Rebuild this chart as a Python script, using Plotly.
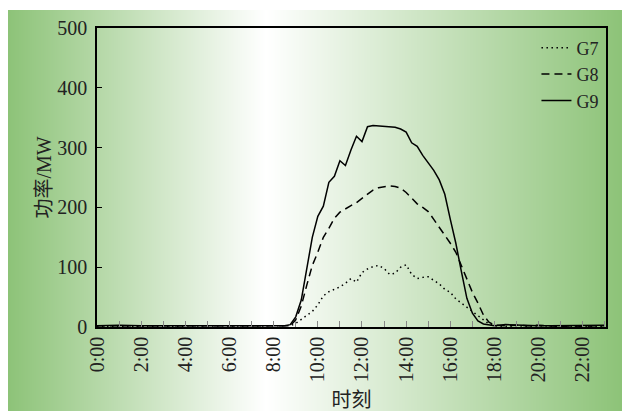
import base64, struct, zlib
import plotly.graph_objects as go

# ---------------- data ----------------
hours = [0, 1, 2, 3, 4, 5, 6, 7, 8,
         8.25, 8.5, 8.75, 9.0, 9.25, 9.5, 9.75, 10.0, 10.25, 10.5, 10.75,
         11.0, 11.25, 11.5, 11.75, 12.0, 12.25, 12.5, 12.75, 13.0, 13.25,
         13.5, 13.75, 14.0, 14.25, 14.5, 14.75, 15.0, 15.25, 15.5, 15.75,
         16.0, 16.25, 16.5, 16.75, 17.0, 17.25, 17.5, 17.75, 18.0,
         18.5, 19, 19.5, 20, 20.5, 21, 21.5, 22, 22.5, 23]

g7 = [1, 1, 1, 1, 1, 1, 1, 1, 1,
      1, 1, 2, 6, 13, 19, 26, 37, 52, 59, 63,
      67, 73, 81, 75, 91, 97, 101, 103, 98, 88,
      90, 100, 104, 88, 81, 83, 84, 78, 72, 63,
      58, 47, 40, 33, 25, 18, 11, 5, 2,
      1, 2, 1, 2, 1, 1, 1, 1, 1, 1]

g8 = [2, 2, 1, 2, 1, 2, 1, 2, 1,
      1, 1, 2, 12, 35, 70, 103, 125, 150, 165, 182,
      192, 198, 203, 208, 215, 222, 229, 233, 235, 236,
      235, 232, 225, 215, 206, 200, 193, 180, 167, 153,
      140, 125, 103, 82, 58, 40, 20, 8, 3,
      2, 3, 2, 3, 2, 1, 2, 1, 2, 2]

g9 = [2, 3, 2, 2, 2, 2, 2, 2, 2,
      2, 2, 4, 17, 45, 95, 150, 185, 202, 242, 252,
      278, 270, 296, 319, 310, 335, 337, 336, 335, 335,
      334, 331, 326, 308, 302, 287, 275, 262, 246, 222,
      180, 140, 93, 48, 23, 10, 5, 3, 2,
      4, 3, 3, 2, 2, 2, 2, 2, 3, 3]

series_names = ["G7", "G8", "G9"]
tick_hours = list(range(0, 24))
tick_labels = ["0:00", "", "2:00", "", "4:00", "", "6:00", "", "8:00", "",
               "10:00", "", "12:00", "", "14:00", "", "16:00", "", "18:00", "",
               "20:00", "", "22:00", ""]
y_ticks = [0, 100, 200, 300, 400, 500]

# ---------------- background gradient image ----------------
W_IMG = 614
green = (141, 195, 120)
white_pos = 0.42

def grad_color(t):
    if t <= white_pos:
        f = t / white_pos
    else:
        f = (1 - t) / (1 - white_pos)
    return tuple(int(round(g + (255 - g) * f)) for g in green)

row = bytearray([0])
for i in range(W_IMG):
    row.extend(grad_color(i / (W_IMG - 1)))
rows = b"".join(bytes(row) for _ in range(4))

def png_chunk(tag, data):
    c = struct.pack(">I", len(data)) + tag + data
    return c + struct.pack(">I", zlib.crc32(tag + data) & 0xffffffff)

png = b"\x89PNG\r\n\x1a\n"
png += png_chunk(b"IHDR", struct.pack(">IIBBBBB", W_IMG, 4, 8, 2, 0, 0, 0))
png += png_chunk(b"IDAT", zlib.compress(rows))
png += png_chunk(b"IEND", b"")
uri = "data:image/png;base64," + base64.b64encode(png).decode()

# plot area geometry (pixels) for converting the background rect to paper coords
L, R, T, B = 97, 606, 28, 327
pw, ph = R - L, B - T

FONT = "Liberation Serif, Noto Sans CJK SC, serif"

fig = go.Figure()
styles = [dict(dash="1.5px,3.5px", width=1.5),
          dict(dash="8px,5px", width=1.5),
          dict(dash="solid", width=1.5)]
for name, vals, st in zip(series_names, [g7, g8, g9], styles):
    fig.add_trace(go.Scatter(x=hours, y=vals, mode="lines", name=name,
                             line=dict(color="black", **st)))

fig.add_layout_image(dict(source=uri, xref="paper", yref="paper",
                          x=(8 - L) / pw, y=(B - 10) / ph,
                          sizex=(622 - 8) / pw, sizey=(411 - 10) / ph,
                          xanchor="left", yanchor="top", sizing="stretch",
                          layer="below"))

fig.update_layout(
    width=628, height=411,
    margin=dict(l=L, r=628 - R, t=T, b=411 - B),
    paper_bgcolor="white", plot_bgcolor="rgba(0,0,0,0)",
    font=dict(family=FONT, size=20, color="#222"),
    showlegend=True,
    legend=dict(x=0.995, y=0.995, xanchor="right", yanchor="top",
                bgcolor="rgba(0,0,0,0)", font=dict(size=18),
                itemwidth=30),
    xaxis=dict(range=[0, 23.05], tickmode="array", tickvals=tick_hours,
               ticktext=tick_labels, tickangle=-90, ticks="inside",
               ticklen=6, tickcolor="#888", showgrid=False, zeroline=False,
               showline=True, linecolor="black", linewidth=1.5, mirror=True,
               automargin=False, tickfont=dict(size=20),
               title=dict(text="时刻", standoff=12, font=dict(size=20))),
    yaxis=dict(range=[0, 500], tickmode="array", tickvals=y_ticks,
               ticks="inside", ticklen=5, tickcolor="black", showgrid=False,
               zeroline=False, showline=True, linecolor="black", linewidth=1.5,
               mirror=True, automargin=False, tickfont=dict(size=20),
               ticklabelstandoff=4,
               title=dict(text="功率/MW", standoff=0, font=dict(size=20))),
)

fig.write_html("out.html", config={"displayModeBar": False},
               post_script="document.body.style.margin='0';")
